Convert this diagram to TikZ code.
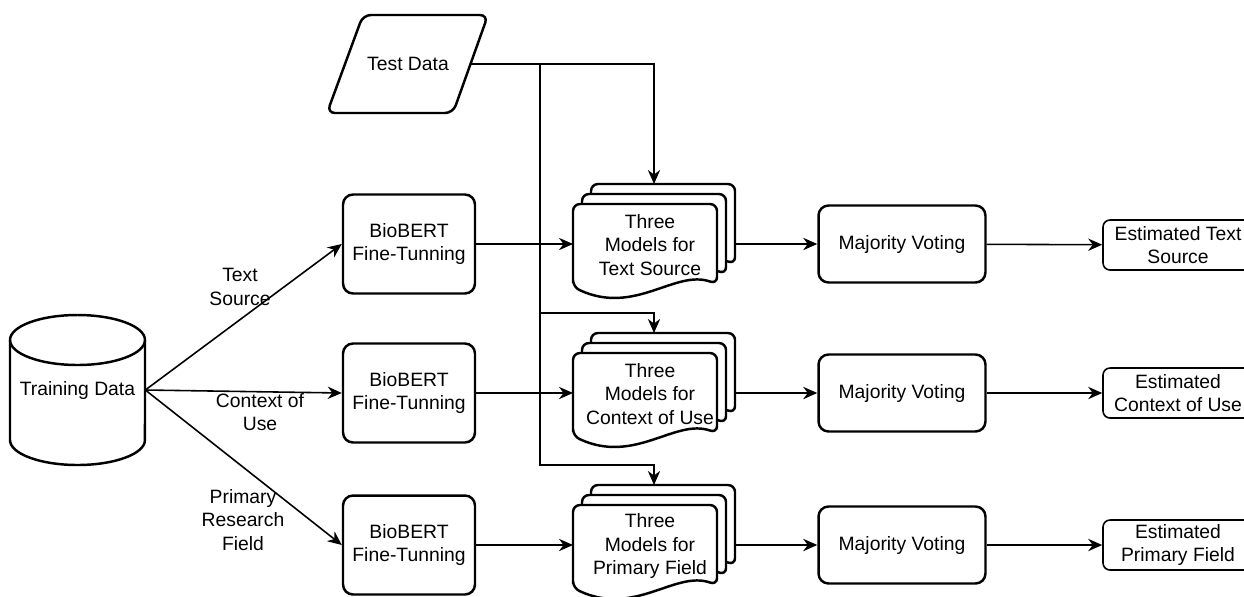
\documentclass[tikz,border=0pt]{standalone}
\usepackage{fontspec}
\setmainfont{Liberation Sans}
\usetikzlibrary{arrows.meta}

\begin{document}
\begin{tikzpicture}[
  x=0.02cm, y=-0.02cm,
  font=\fontsize{11}{13.5}\selectfont,
  proc/.style={draw, line width=1.4pt, rounded corners=0.2cm, align=center,
               minimum width=2.64cm, minimum height=1.98cm},
  vote/.style={draw, line width=1.4pt, rounded corners=0.2cm, align=center,
               minimum width=3.34cm, minimum height=1.54cm},
  result/.style={draw, line width=0.9pt, rounded corners=0.14cm, align=center,
                 minimum width=3cm, minimum height=1cm, inner sep=1pt},
  lab/.style={align=center, inner sep=1pt},
  doc/.style={draw, line width=1.4pt, fill=white, rounded corners=0.14cm},
  conn/.style={line width=0.9pt, -{Stealth[length=8pt, width=7pt, inset=2.6pt]}},
  models/.pic={
    % three stacked sheets, back to front
    \draw[doc] (-54,23) -- (-54,-60) -- (90,-60) -- (90,20)
               .. controls (48,5) and (8,52) .. (-54,23) -- cycle;
    \draw[doc] (-63,33) -- (-63,-50) -- (81,-50) -- (81,30)
               .. controls (39,15) and (-1,62) .. (-63,33) -- cycle;
    \draw[doc] (-72,43) -- (-72,-40) -- (72,-40) -- (72,40)
               .. controls (30,25) and (-10,72) .. (-72,43) -- cycle;
    \coordinate (-top)  at (9,-60);
    \coordinate (-turn) at (9,-80);
    \coordinate (-in)   at (-72,0);
    \coordinate (-out)  at (90,0);
  }
]
\useasboundingbox (0,0) rectangle (1244,596);

% ── inputs ───────────────────────────────────────────────────────────
\draw[line width=1.4pt, fill=white] (10,340) -- (10,440)
      arc[start angle=180, end angle=360, x radius=1.35cm, y radius=0.5cm]
      -- (145,340);
\draw[line width=1.4pt] (77.5,340) ellipse[x radius=1.35cm, y radius=0.5cm];
\node[minimum width=2.7cm] (train) at (77.5,390) {Training Data};

\draw[line width=1.4pt, rounded corners=0.16cm]
      (363,15) -- (488,15) -- (453,113) -- (327,113) -- cycle;
\node[minimum width=2.5cm] (test) at (408,64) {Test Data};
\coordinate (split) at (540,64);

% ── fine-tuning ──────────────────────────────────────────────────────
\node[proc] (ft1) at (409,244) {BioBERT\\Fine-Tunning};
\node[proc] (ft2) at (409,393) {BioBERT\\Fine-Tunning};
\node[proc] (ft3) at (409,545) {BioBERT\\Fine-Tunning};

\draw[conn] (train.east) -- (ft1.west);
\draw[conn] (train.east) -- (ft2.west);
\draw[conn] (train.east) -- (ft3.west);

\node[lab] (l1) at (240,287) {Text\\Source};
\node[lab] (l2) at (260,412) {Context of\\Use};
\node[lab] (l3) at (243,520) {Primary\\Research\\Field};

% ── model stacks ─────────────────────────────────────────────────────
\pic (m1) at (645,244) {models};
\pic (m2) at (645,393) {models};
\pic (m3) at (645,545) {models};
\node[lab] (t1) at (650,245) {Three\\Models for\\Text Source};
\node[lab] (t2) at (650,394) {Three\\Models for\\Context of Use};
\node[lab] (t3) at (650,546) {Three\\Models for\\Primary Field};

\draw[conn] (ft1.east) -- (m1-in);
\draw[conn] (ft2.east) -- (m2-in);
\draw[conn] (ft3.east) -- (m3-in);

% test data feeds every stack
\draw[conn] (test.east) -| (m1-top);
\draw[conn] (split) |- (m2-turn) -- (m2-top);
\draw[conn] (split) |- (m3-turn) -- (m3-top);

% ── voting and outputs ───────────────────────────────────────────────
\node[vote] (mv1) at (902,244) {Majority Voting};
\node[vote] (mv2) at (902,393) {Majority Voting};
\node[vote] (mv3) at (902,545) {Majority Voting};

\node[result] (est1) at (1178,245) {Estimated Text\\Source};
\node[result] (est2) at (1178,393) {Estimated\\Context of Use};
\node[result] (est3) at (1178,545) {Estimated\\Primary Field};

\draw[conn] (m1-out) -- (mv1.west);
\draw[conn] (m2-out) -- (mv2.west);
\draw[conn] (m3-out) -- (mv3.west);
\draw[conn] (mv1) -- (est1);
\draw[conn] (mv2) -- (est2);
\draw[conn] (mv3) -- (est3);

\end{tikzpicture}
\end{document}
